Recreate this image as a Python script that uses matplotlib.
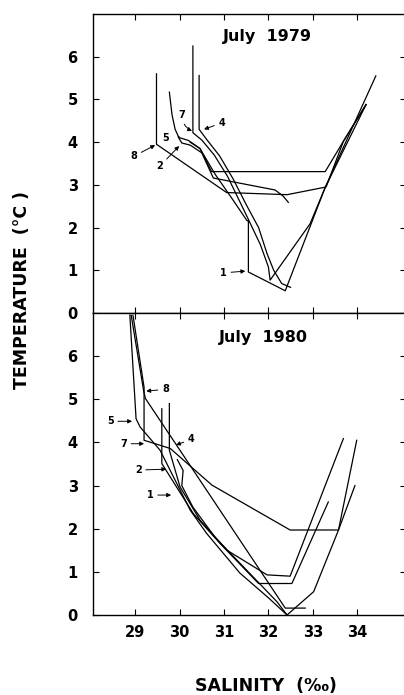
import matplotlib.pyplot as plt

# T-S profiles, (salinity, temperature) pairs for each station
s79_1 = [30.24, 30.46, 30.8, 31.2, 31.52, 31.55, 31.55, 32.38, 33.28, 34.2]
t79_1 = [4.0, 3.85, 3.25, 2.65, 2.16, 2.16, 0.96, 0.52, 2.94, 4.88]
s79_2 = [29.97, 30.05, 30.24, 30.5, 30.76, 32.15, 32.33, 32.45]
t79_2 = [4.12, 3.98, 3.93, 3.75, 3.16, 2.88, 2.74, 2.59]
s79_4 = [30.44, 30.44, 30.62, 30.9, 31.2, 31.52, 31.78, 31.97, 32.12, 32.3, 32.5]
t79_4 = [5.56, 4.3, 4.05, 3.68, 3.15, 2.5, 2.0, 1.39, 1.0, 0.69, 0.6]
s79_5 = [29.77, 29.83, 29.9, 29.97, 30.01, 30.2, 30.46, 30.72, 33.28, 33.69, 34.2]
t79_5 = [5.17, 4.64, 4.3, 4.14, 4.1, 4.04, 3.85, 3.31, 3.31, 4.02, 4.88]
s79_7 = [30.3, 30.3, 30.5, 30.78, 31.08, 31.5, 31.82, 32.0, 32.04, 32.94, 33.28, 34.42]
t79_7 = [6.25, 4.22, 4.05, 3.7, 3.2, 2.3, 1.6, 1.08, 0.77, 2.09, 2.94, 5.55]
s79_8 = [29.48, 29.48, 31.06, 32.42, 33.3, 33.69, 34.2]
t79_8 = [5.6, 3.95, 2.82, 2.77, 2.95, 4.02, 4.88]

s80_1 = [29.95, 30.08, 30.05, 30.3, 30.8, 31.5, 32.2, 32.42]
t80_1 = [3.6, 3.35, 3.0, 2.5, 1.8, 1.05, 0.3, 0.0]
s80_2 = [29.6, 29.6, 30.31, 30.91, 31.78, 32.53, 33.35]
t80_2 = [4.78, 3.51, 2.35, 1.66, 0.73, 0.73, 2.62]
s80_4 = [29.77, 29.77, 30.01, 30.46, 31.07, 31.97, 32.49, 33.69]
t80_4 = [4.9, 3.82, 2.97, 2.2, 1.5, 0.93, 0.9, 4.09]
s80_5 = [28.88, 29.02, 29.11, 29.56, 30.24, 30.61, 31.36, 32.0, 32.42, 33.02, 33.58, 33.99]
t80_5 = [6.95, 4.55, 4.36, 3.82, 2.43, 1.89, 0.97, 0.4, 0.0, 0.54, 1.97, 4.05]
s80_7 = [28.95, 29.2, 29.2, 29.79, 30.73, 32.49, 33.58, 33.95]
t80_7 = [6.95, 5.28, 4.05, 3.86, 3.01, 1.97, 1.97, 3.0]
s80_8 = [28.91, 29.19, 29.23, 32.38, 32.83]
t80_8 = [6.95, 5.2, 5.02, 0.16, 0.16]

sal_ticks = [29, 30, 31, 32, 33, 34]
temp_ticks = [0, 1, 2, 3, 4, 5, 6]

upper = [(s79_1, t79_1), (s79_2, t79_2), (s79_4, t79_4),
         (s79_5, t79_5), (s79_7, t79_7), (s79_8, t79_8)]
lower = [(s80_1, t80_1), (s80_2, t80_2), (s80_4, t80_4),
         (s80_5, t80_5), (s80_7, t80_7), (s80_8, t80_8)]

W, H = 404, 695
fig = plt.figure(figsize=(W / 100, H / 100), dpi=100)

def px_axes(x0, y0, x1, y1):
    return fig.add_axes([x0 / W, 1 - y1 / H, (x1 - x0) / W, (y1 - y0) / H])

ax1 = px_axes(93, 14, 406, 313)
ax2 = px_axes(93, 313, 406, 615)

tick_font = {'weight': 'bold', 'size': 10.5}

for ax, curves in ((ax1, upper), (ax2, lower)):
    for s, t in curves:
        ax.plot(s, t, color='black', lw=0.9)
    ax.set_xlim(28.05, 35.1)
    ax.set_ylim(0, 7)
    ax.set_xticks(sal_ticks)
    ax.set_yticks(temp_ticks)
    ax.tick_params(direction='in', length=4, width=0.8, top=True, right=True,
                   pad=11)
    ax.tick_params(axis='x', pad=7)
    ax.set_yticklabels([str(v) for v in temp_ticks], fontdict=tick_font)
    ax.spines['right'].set_visible(False)
    for sp in ('left', 'top', 'bottom'):
        ax.spines[sp].set_linewidth(1.0)

ax1.set_xticklabels([])
ax2.set_xticklabels([str(v) for v in sal_ticks], fontdict=tick_font)

ax1.text(0.556, 0.926, 'July  1979', transform=ax1.transAxes, ha='center',
         va='center', fontsize=11.5, weight='bold')
ax2.text(0.543, 0.92, 'July  1980', transform=ax2.transAxes, ha='center',
         va='center', fontsize=11.5, weight='bold')

# station numbers with arrows
arrow = dict(arrowstyle='-|>', color='black', lw=0.7, mutation_scale=6,
             shrinkA=1, shrinkB=0)
lab = dict(fontsize=7, weight='bold', ha='center', va='center')

ax1.annotate('8', xy=(29.45, 3.93), xytext=(28.97, 3.67), arrowprops=arrow, **lab)
ax1.annotate('2', xy=(29.99, 3.91), xytext=(29.55, 3.43), arrowprops=arrow, **lab)
ax1.text(29.69, 4.10, '5', **lab)
ax1.annotate('7', xy=(30.28, 4.26), xytext=(30.05, 4.63),
             arrowprops=dict(arrow, connectionstyle='arc3,rad=0.3'), **lab)
ax1.annotate('4', xy=(30.55, 4.30), xytext=(30.95, 4.45), arrowprops=arrow, **lab)
ax1.annotate('1', xy=(31.48, 0.98), xytext=(30.99, 0.94), arrowprops=arrow, **lab)

ax2.annotate('8', xy=(29.25, 5.19), xytext=(29.68, 5.23), arrowprops=arrow, **lab)
ax2.annotate('5', xy=(28.93, 4.49), xytext=(28.44, 4.49), arrowprops=arrow, **lab)
ax2.annotate('7', xy=(29.2, 3.97), xytext=(28.74, 3.97), arrowprops=arrow, **lab)
ax2.annotate('4', xy=(29.92, 3.94), xytext=(30.26, 4.07), arrowprops=arrow, **lab)
ax2.annotate('2', xy=(29.70, 3.38), xytext=(29.07, 3.36), arrowprops=arrow, **lab)
ax2.annotate('1', xy=(29.81, 2.78), xytext=(29.34, 2.78), arrowprops=arrow, **lab)

fig.text(22 / W, 1 - 290 / H, 'TEMPERATURE  (°C )', rotation=90, ha='center',
         va='center', fontsize=12.5, weight='bold')
fig.text(266 / W, 1 - 686 / H, 'SALINITY  (‰)', ha='center', va='center',
         fontsize=12.5, weight='bold')

fig.savefig('out.png', dpi=100)
